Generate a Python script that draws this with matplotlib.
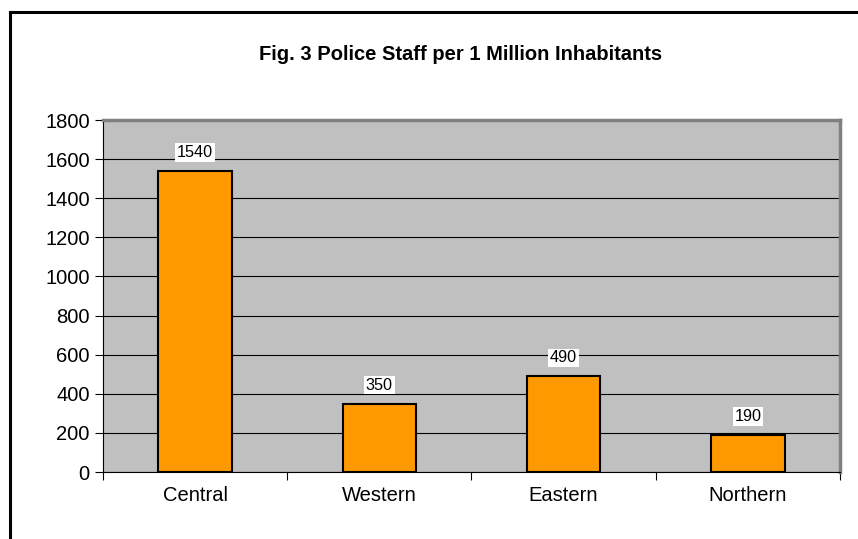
import matplotlib.pyplot as plt
from matplotlib.lines import Line2D

regions = ["Central", "Western", "Eastern", "Northern"]
staff = [1540, 350, 490, 190]

plt.rcParams['font.family'] = ['Liberation Sans', 'DejaVu Sans']

fig = plt.figure(figsize=(8.58, 5.39), dpi=100)
ax = fig.add_axes([103 / 858, 1 - 472 / 539, (840 - 103) / 858, (472 - 120) / 539])

# outer chart frame (cut off at right and bottom)
fx = 10 / 858
fy = 1 - 12 / 539
fig.add_artist(Line2D([fx, fx], [0, fy], color='black', lw=2.2, transform=fig.transFigure))
fig.add_artist(Line2D([fx, 1], [fy, fy], color='black', lw=2.2, transform=fig.transFigure))

ax.set_facecolor('#C0C0C0')
xs = list(range(len(regions)))
ax.bar(xs, staff, width=0.4, color='#FF9900', edgecolor='black', linewidth=1.5, zorder=3)

for x, v in zip(xs, staff):
    ax.text(x, v + 55, str(v), ha='center', va='bottom', fontsize=11.7,
            bbox=dict(facecolor='white', edgecolor='none', pad=1.2), zorder=4)

ax.set_xlim(-0.5, len(regions) - 0.5)
ax.set_ylim(0, 1800)
ax.set_yticks(range(0, 1801, 200))
ax.yaxis.grid(True, color='black', linewidth=0.8, zorder=1)
ax.set_axisbelow(True)

ax.set_xticks(xs)
ax.set_xticklabels(regions, fontsize=14.5)
ax.tick_params(axis='x', length=0, pad=10)
ax.set_xticks([i + 0.5 for i in range(-1, len(regions))], minor=True)
ax.tick_params(axis='x', which='minor', length=6, width=0.8)
ax.tick_params(axis='y', labelsize=14.5, length=6, width=0.8)

for s in ['top', 'right']:
    ax.spines[s].set_color('#808080')
    ax.spines[s].set_linewidth(2.5)
for s in ['left', 'bottom']:
    ax.spines[s].set_color('black')
    ax.spines[s].set_linewidth(0.8)

fig.text(461 / 858, 1 - 55 / 539, "Fig. 3 Police Staff per 1 Million Inhabitants",
         ha='center', va='center', fontsize=14.5, fontweight='bold')

fig.savefig('out.png', dpi=100)
